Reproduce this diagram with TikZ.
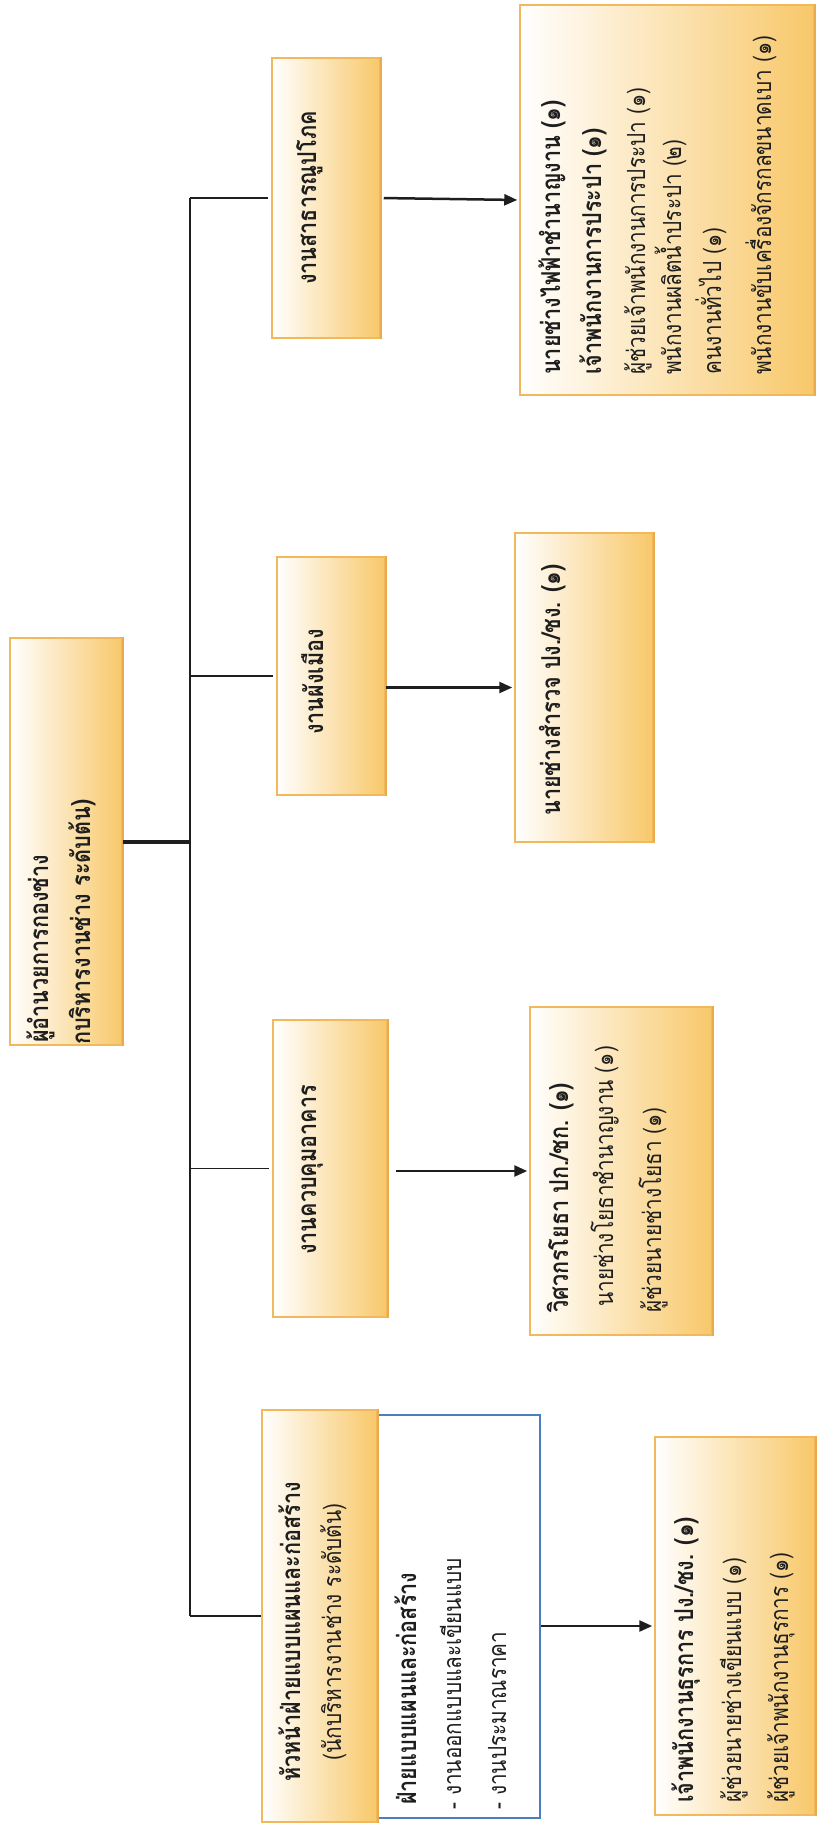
\documentclass[tikz,border=0pt]{standalone}
\usepackage{fontspec}
\newfontfamily\thai[Script=Thai, FakeStretch=0.83]{Loma}
\usetikzlibrary{arrows.meta,calc}
\definecolor{goldB}{HTML}{F2B85C}
\definecolor{goldD}{HTML}{EBAA4C}
\definecolor{goldF}{HTML}{F8C86A}
\definecolor{blueB}{HTML}{4A7EC0}
\definecolor{ink}{HTML}{1E1E1E}
\begin{document}
\begin{tikzpicture}[x=1pt,y=-1pt,
  goldbox/.style={draw=goldB, line width=1.5pt, left color=white, middle color=goldF!40, right color=goldF, inner sep=0pt},
  bluebox/.style={draw=blueB, line width=1.5pt, fill=white, inner sep=0pt},
  txt/.style={rotate=90, anchor=base west, inner sep=0pt, text=ink, font=\thai\fontsize{25}{28}\selectfont},
  txtb/.style={txt, font=\thai\bfseries\fontsize{26}{28}\selectfont},
  ctxt/.style={txt, anchor=base},
  ctxtb/.style={txtb, anchor=base},
  branch/.style={draw=ink, line width=1.4pt},
  rootline/.style={draw=ink, line width=4pt},
  edge/.style={draw=goldD, line width=2.5pt},
  arr/.style={draw=ink, line width=2.5pt, -{Triangle[length=13pt,width=11pt]}}]
\useasboundingbox (0,0) rectangle (820,1824);
% boxes
\node[goldbox, minimum width=112, minimum height=407] (root) at (66,841.5) {};
\node[goldbox, minimum width=108, minimum height=280] (A) at (326,198) {};
\node[goldbox, minimum width=294, minimum height=390] (resA) at (667,200) {};
\node[goldbox, minimum width=108, minimum height=238] (B) at (331,676) {};
\node[goldbox, minimum width=138, minimum height=309] (resB) at (584,687.5) {};
\node[goldbox, minimum width=114, minimum height=297] (C) at (330,1168.5) {};
\node[goldbox, minimum width=182, minimum height=328] (resC) at (621,1171) {};
\node[goldbox, minimum width=115, minimum height=412] (D) at (319.5,1616) {};
\node[bluebox, minimum width=162, minimum height=403] (blue) at (459,1616.5) {};
\node[goldbox, minimum width=160, minimum height=378] (resD) at (735,1626) {};
\foreach \b in {root,A,resA,B,resB,C,resC,D,resD}
  \draw[edge] (\b.north east) -- (\b.south east);
% texts
\node[txtb] (r1) at (48,1043) {ผู้อำนวยการกองช่าง};
\node[txtb] (r2) at (90,1045) {กบริหารงานช่าง ระดับต้น)};
\node[ctxtb] (a1) at (316,198) {งานสาธารณูปโภค};
\node[txtb] (ra1) at (560,375) {นายช่างไฟฟ้าชำนาญงาน (๑)};
\node[txtb] (ra2) at (601,375) {เจ้าพนักงานการประปา (๑)};
\node[txt] (ra3) at (645,375) {ผู้ช่วยเจ้าพนักงานการประปา (๑)};
\node[txt] (ra4) at (681,375) {พนักงานผลิตน้ำประปา (๒)};
\node[txt] (ra5) at (721,375) {คนงานทั่วไป (๑)};
\node[txt] (ra6) at (771,375) {พนักงานขับเครื่องจักรกลขนาดเบา (๑)};
\node[ctxtb] (b1) at (323,682) {งานผังเมือง};
\node[ctxtb] (rb1) at (560,690) {นายช่างสำรวจ ปง./ชง. (๑)};
\node[ctxtb] (c1) at (316,1170) {งานควบคุมอาคาร};
\node[txtb] (rc1) at (568,1313) {วิศวกรโยธา ปก./ชก. (๑)};
\node[txt] (rc2) at (613,1307) {นายช่างโยธาชำนาญงาน (๑)};
\node[txt] (rc3) at (661,1313) {ผู้ช่วยนายช่างโยธา (๑)};
\node[ctxtb] (d1) at (300,1632) {หัวหน้าฝ่ายแบบแผนและก่อสร้าง};
\node[ctxt] (d2) at (341,1632) {(นักบริหารงานช่าง ระดับต้น)};
\node[txtb] (bl1) at (416,1805) {ฝ่ายแบบแผนและก่อสร้าง};
\node[txt] (bl2) at (461,1810) {- งานออกแบบและเขียนแบบ};
\node[txt] (bl3) at (506,1810) {- งานประมาณราคา};
\node[txtb] (rd1) at (693,1803) {เจ้าพนักงานธุรการ ปง./ชง. (๑)};
\node[txt] (rd2) at (741,1803) {ผู้ช่วยนายช่างเขียนแบบ (๑)};
\node[txt] (rd3) at (788,1803) {ผู้ช่วยเจ้าพนักงานธุรการ (๑)};
% connectors
\coordinate (sp) at (190,0);
\draw[branch] (sp |- A.west) -- (sp |- D.west);
\draw[rootline] (root.east) -- (sp |- root.east);
\draw[branch, shorten >=3pt] (sp |- A.west) -- (A.west);
\draw[branch, shorten >=3pt] (sp |- B.west) -- (B.west);
\draw[branch, shorten >=3pt] (sp |- C.west) -- (C.west);
\draw[branch] (sp |- D.west) -- (D.west);
\draw[arr, shorten <=3pt, shorten >=2pt] (A.east) -- (resA.west);
\draw[arr, shorten >=2pt] (B.east |- resB.west) -- (resB.west);
\draw[arr, shorten <=8pt, shorten >=2pt] (C.east |- resC.west) -- (resC.west);
\draw[arr, shorten >=2pt] (blue.east |- resD.west) -- (resD.west);
\end{tikzpicture}
\end{document}
